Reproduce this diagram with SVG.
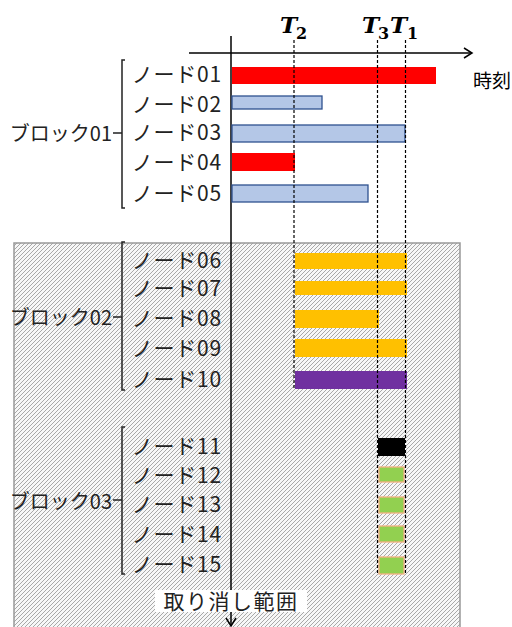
<svg xmlns="http://www.w3.org/2000/svg" width="512" height="627" viewBox="0 0 512 627">
<defs>
<pattern id="hatch" patternUnits="userSpaceOnUse" width="4" height="4">
<rect width="4" height="4" fill="#f7f7f7"/>
<path d="M-1,1 L1,-1 M0,4 L4,0 M3,5 L5,3" stroke="#a8a8a8" stroke-width="1"/>
</pattern>
<marker id="arr" markerWidth="12" markerHeight="12" refX="10" refY="6" orient="auto" markerUnits="userSpaceOnUse">
<path d="M2,1 L10,6 L2,11" fill="none" stroke="#000" stroke-width="1.5"/>
</marker>
</defs>
<style>
.lbl{font-family:"Noto Sans CJK JP","Noto Sans",sans-serif;font-size:21px;letter-spacing:0.8px;fill:#222;text-anchor:end}
.blk{font-family:"Noto Sans CJK JP","Noto Sans",sans-serif;font-size:20px;fill:#222;text-anchor:end}
.tl{font-family:"DejaVu Serif",serif;font-style:italic;font-weight:bold;font-size:23px;fill:#000}
.ts{font-family:"DejaVu Serif",serif;font-weight:bold;font-size:16px;fill:#000}
.brk{fill:none;stroke:#222;stroke-width:1.5}
.dash{stroke:#000;stroke-width:1.2;stroke-dasharray:3 2;fill:none}
.blue{fill:#B4C7E7;stroke:#2F528F;stroke-width:1.3}
.red{fill:#FF0000}
.org{fill:#FFC000}
.pur{fill:#7030A0}
.grn{fill:#92D050;stroke:#F4B183;stroke-width:1.3}
</style>

<g id="cancel-range">
<rect x="14" y="243" width="446" height="390" fill="url(#hatch)" stroke="#999" stroke-width="1.5"/>
</g>

<g id="axes">
<line x1="189" y1="53" x2="472" y2="53" stroke="#000" stroke-width="1.5" marker-end="url(#arr)"/>
<line x1="231" y1="36" x2="231" y2="626" stroke="#000" stroke-width="1.5" marker-end="url(#arr)"/>
<text x="473" y="88" font-family="Noto Sans CJK JP, sans-serif" font-size="19" fill="#000">時刻</text>
</g>

<g id="time-labels">
<text class="tl" x="280" y="33">T</text><text class="ts" x="296" y="39">2</text>
<text class="tl" x="362" y="33">T</text><text class="ts" x="378" y="39">3</text>
<text class="tl" x="390" y="33">T</text><text class="ts" x="407" y="39">1</text>
</g>

<g id="block01">
<path class="brk" d="M125,60 H122 V208 H125 M113,133 H122"/>
<text class="blk" x="112" y="141">ブロック01</text>
<g id="node01"><text class="lbl" x="222" y="82">ノード01</text><rect class="red" x="232" y="67" width="204" height="17"/></g>
<g id="node02"><text class="lbl" x="222" y="112">ノード02</text><rect class="blue" x="232" y="96" width="90" height="13"/></g>
<g id="node03"><text class="lbl" x="222" y="140">ノード03</text><rect class="blue" x="232" y="125" width="173" height="17"/></g>
<g id="node04"><text class="lbl" x="222" y="170">ノード04</text><rect class="red" x="232" y="153" width="63" height="18"/></g>
<g id="node05"><text class="lbl" x="222" y="201">ノード05</text><rect class="blue" x="232" y="185" width="136" height="17"/></g>
</g>

<g id="block02">
<path class="brk" d="M125,242 H122 V390 H125 M113,317 H122"/>
<text class="blk" x="112" y="325">ブロック02</text>
<g id="node06"><text class="lbl" x="222" y="268">ノード06</text><rect class="org" x="295" y="253" width="112" height="16"/></g>
<g id="node07"><text class="lbl" x="222" y="296">ノード07</text><rect class="org" x="295" y="281" width="112" height="14"/></g>
<g id="node08"><text class="lbl" x="222" y="326">ノード08</text><rect class="org" x="295" y="310" width="84" height="18"/></g>
<g id="node09"><text class="lbl" x="222" y="356">ノード09</text><rect class="org" x="295" y="339" width="112" height="18"/></g>
<g id="node10"><text class="lbl" x="222" y="387">ノード10</text><rect class="pur" x="295" y="371" width="112" height="18"/></g>
</g>

<g id="block03">
<path class="brk" d="M125,427 H122 V574 H125 M113,500 H122"/>
<text class="blk" x="112" y="509">ブロック03</text>
<g id="node11"><text class="lbl" x="222" y="454">ノード11</text><rect fill="#000" x="378" y="438" width="27" height="18"/></g>
<g id="node12"><text class="lbl" x="222" y="483">ノード12</text><rect class="grn" x="379" y="467" width="25" height="15"/></g>
<g id="node13"><text class="lbl" x="222" y="512">ノード13</text><rect class="grn" x="379" y="497" width="25" height="16"/></g>
<g id="node14"><text class="lbl" x="222" y="542">ノード14</text><rect class="grn" x="379" y="526" width="25" height="16"/></g>
<g id="node15"><text class="lbl" x="222" y="572">ノード15</text><rect class="grn" x="379" y="557" width="25" height="17"/></g>
</g>

<g id="connectors">
<line class="dash" x1="294" y1="40" x2="294" y2="388"/>
<line class="dash" x1="377.5" y1="40" x2="377.5" y2="575"/>
<line class="dash" x1="405.5" y1="40" x2="405.5" y2="575"/>
</g>

<g id="cancel-label">
<rect x="155" y="590" width="152" height="22" fill="#fff"/>
<text x="231" y="609" text-anchor="middle" font-family="Noto Sans CJK JP, sans-serif" font-size="21" letter-spacing="1.5" fill="#222">取り消し範囲</text>
</g>
</svg>
